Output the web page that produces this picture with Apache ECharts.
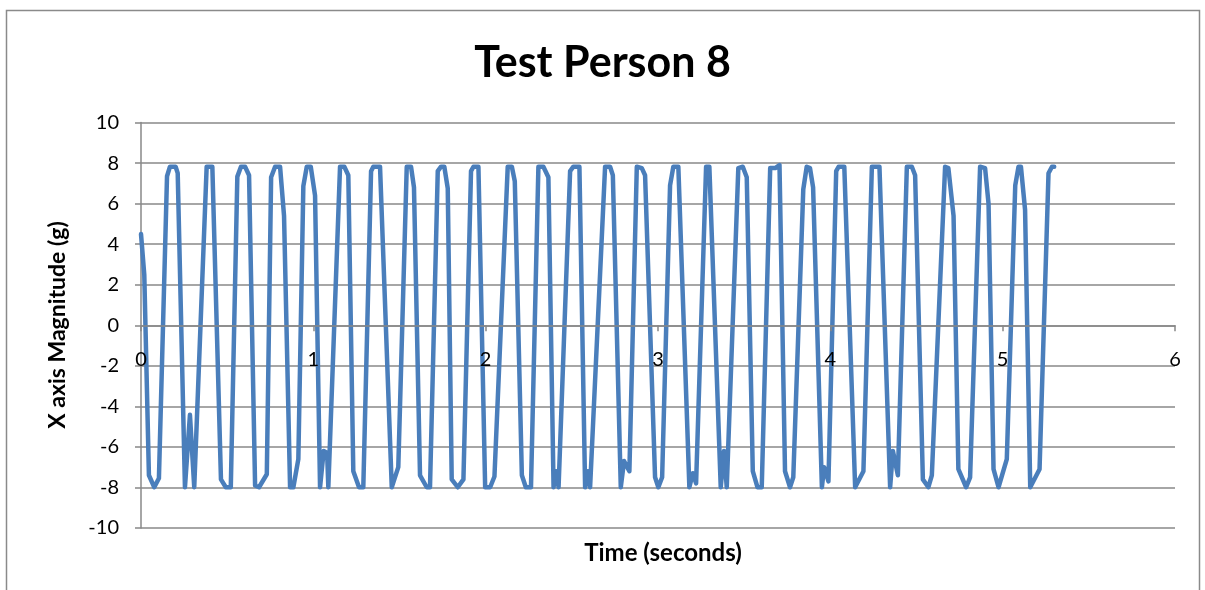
<!DOCTYPE html>
<html>
<head>
<meta charset="utf-8">
<title>Test Person 8</title>
<script src="https://cdn.jsdelivr.net/npm/echarts@6/dist/echarts.min.js"></script>
<style>
  html, body { margin: 0; padding: 0; background: #ffffff; }
  #chart { width: 1205px; height: 590px; }
</style>
</head>
<body>
<div id="chart"></div>
<script>
// Accelerometer samples: time in seconds and X axis magnitude in g
const timeSec = [
  0.000, 0.019, 0.046, 0.077, 0.104, 0.151, 0.168, 0.201, 0.213,
  0.255, 0.284, 0.309, 0.381, 0.414,
  0.464, 0.492, 0.521, 0.559, 0.580, 0.604, 0.627,
  0.662, 0.685, 0.730, 0.755, 0.778, 0.807, 0.830,
  0.865, 0.884, 0.913, 0.942, 0.962, 0.985, 1.010,
  1.039, 1.060, 1.080, 1.087, 1.155, 1.180, 1.203,
  1.232, 1.265, 1.290, 1.335, 1.348, 1.387,
  1.455, 1.493, 1.542, 1.567, 1.584,
  1.619, 1.658, 1.677, 1.722, 1.741, 1.760, 1.780,
  1.803, 1.838, 1.871, 1.915, 1.929, 1.958,
  1.997, 2.026, 2.051, 2.128, 2.152, 2.169,
  2.210, 2.233, 2.263, 2.306, 2.335, 2.364,
  2.394, 2.409, 2.423, 2.490, 2.509, 2.544,
  2.577, 2.593, 2.606, 2.693, 2.722, 2.738,
  2.784, 2.803, 2.834, 2.877, 2.906, 2.925,
  2.983, 3.002, 3.024, 3.070, 3.089, 3.118,
  3.182, 3.202, 3.221, 3.279, 3.298,
  3.364, 3.383, 3.399, 3.466, 3.492, 3.515,
  3.550, 3.577, 3.602, 3.651, 3.680, 3.705,
  3.737, 3.766, 3.785, 3.843, 3.863, 3.882, 3.900,
  3.951, 3.964, 3.989, 4.034, 4.048, 4.081,
  4.144, 4.192, 4.241, 4.285,
  4.347, 4.363, 4.392, 4.444, 4.473, 4.492,
  4.537, 4.569, 4.589, 4.666, 4.685, 4.715,
  4.743, 4.788, 4.811, 4.869, 4.898, 4.918,
  4.947, 4.976, 5.024, 5.073, 5.092, 5.106, 5.130,
  5.160, 5.214, 5.266, 5.286, 5.299
];

const magnitude = [
  4.50, 2.50, -7.40, -7.99, -7.55, 7.35, 7.82, 7.82, 7.50,
  -7.99, -4.42, -7.99, 7.82, 7.82,
  -7.60, -7.99, -7.99, 7.33, 7.82, 7.82, 7.40,
  -7.90, -7.99, -7.35, 7.30, 7.82, 7.82, 5.40,
  -7.99, -7.99, -6.60, 6.86, 7.82, 7.82, 6.40,
  -7.99, -6.20, -6.30, -7.99, 7.82, 7.82, 7.40,
  -7.20, -7.99, -7.99, 7.60, 7.82, 7.82,
  -7.99, -7.00, 7.82, 7.82, 6.80,
  -7.40, -7.99, -7.99, 7.60, 7.82, 7.82, 6.75,
  -7.60, -7.99, -7.60, 7.60, 7.82, 7.82,
  -7.99, -7.99, -7.46, 7.82, 7.82, 7.10,
  -7.40, -7.99, -7.99, 7.82, 7.82, 7.30,
  -7.99, -7.20, -7.99, 7.60, 7.82, 7.82,
  -7.99, -7.20, -7.99, 7.82, 7.82, 7.40,
  -7.99, -6.70, -7.20, 7.82, 7.75, 7.40,
  -7.50, -7.99, -7.50, 6.90, 7.82, 7.82,
  -7.99, -7.30, -7.80, 7.82, 7.82,
  -7.99, -6.20, -7.99, 7.75, 7.82, 7.30,
  -7.20, -7.99, -7.99, 7.75, 7.75, 7.90,
  -7.20, -7.99, -7.50, 6.70, 7.82, 7.75, 6.80,
  -7.99, -7.00, -7.70, 7.60, 7.82, 7.82,
  -7.99, -7.20, 7.82, 7.82,
  -7.99, -6.20, -7.40, 7.82, 7.82, 7.40,
  -7.60, -7.99, -7.40, 7.82, 7.75, 5.40,
  -7.10, -7.99, -7.50, 7.82, 7.75, 6.00,
  -7.10, -7.99, -6.60, 6.90, 7.82, 7.82, 5.70,
  -7.99, -7.10, 7.50, 7.82, 7.82
];

const yTicks = { min: -10, max: 10, step: 2 };
const xTicks = { min: 0, max: 6, step: 1 };

const points = timeSec.map((t, i) => [t, magnitude[i]]);

const gridGray = '#888888';
const textFont = 'Lato, "Open Sans", "DejaVu Sans", sans-serif';

// plot area geometry; the time axis is lifted from the bottom edge to the zero line
const plotTop = 122.5;
const plotBottom = 62;
const chartHeight = 590;
const plotHeight = chartHeight - plotTop - plotBottom;
const zeroLift = plotHeight * (0 - yTicks.min) / (yTicks.max - yTicks.min);

const chart = echarts.init(document.getElementById('chart'), null, { renderer: 'canvas' });

chart.setOption({
  animation: false,
  backgroundColor: '#ffffff',
  title: [
    {
      text: 'Test Person 8',
      left: 'center',
      top: 37,
      textStyle: { fontFamily: textFont, fontWeight: 'bold', fontSize: 43, color: '#000000' }
    },
    {
      text: 'Time (seconds)',
      left: 658,
      top: 536,
      textAlign: 'center',
      textStyle: { fontFamily: textFont, fontWeight: 'bold', fontSize: 24, color: '#000000' }
    }
  ],
  graphic: [
    {
      type: 'rect',
      shape: { x: 6.5, y: 10.5, width: 1193, height: 620 },
      style: { fill: 'none', stroke: '#8a8a8a', lineWidth: 1.5 },
      silent: true
    },
    {
      type: 'text',
      x: 58,
      y: 325,
      rotation: Math.PI / 2,
      style: {
        text: 'X axis Magnitude (g)',
        font: 'bold 23px ' + textFont,
        fill: '#000000',
        textAlign: 'center',
        textVerticalAlign: 'middle'
      },
      silent: true
    }
  ],
  grid: { left: 141, right: 30, top: plotTop, bottom: plotBottom, containLabel: false },
  xAxis: {
    type: 'value',
    position: 'bottom',
    offset: -zeroLift,
    z: 5,
    min: xTicks.min,
    max: xTicks.max,
    interval: xTicks.step,
    axisLine: { show: true, onZero: false, lineStyle: { color: gridGray, width: 1.5 } },
    axisTick: { show: true, length: 6, lineStyle: { color: gridGray, width: 1.5 } },
    axisLabel: { color: '#000000', fontFamily: textFont, fontSize: 20, margin: 24 },
    splitLine: { show: false }
  },
  yAxis: {
    type: 'value',
    min: yTicks.min,
    max: yTicks.max,
    interval: yTicks.step,
    axisLine: { show: true, onZero: false, lineStyle: { color: gridGray, width: 1.5 } },
    axisTick: { show: true, length: 6, lineStyle: { color: gridGray, width: 1.5 } },
    axisLabel: { color: '#000000', fontFamily: textFont, fontSize: 20, margin: 22 },
    splitLine: { show: true, lineStyle: { color: gridGray, width: 1.5 } }
  },
  series: [
    {
      name: 'X axis',
      type: 'line',
      data: points,
      showSymbol: false,
      symbol: 'none',
      smooth: false,
      clip: false,
      z: 2,
      lineStyle: { color: '#4A7EBB', width: 4.5, join: 'round', cap: 'round' }
    }
  ]
});
</script>
</body>
</html>
